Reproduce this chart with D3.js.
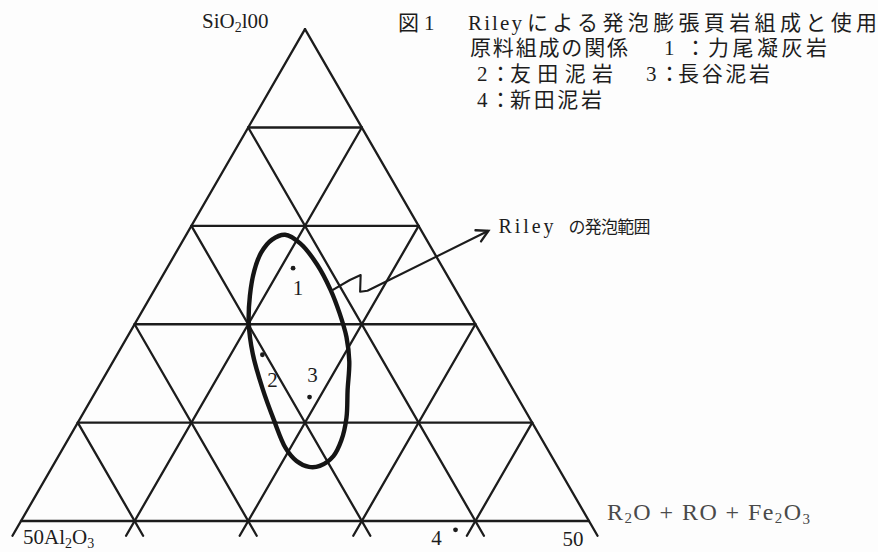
<!DOCTYPE html>
<html><head><meta charset="utf-8">
<script src="https://cdn.jsdelivr.net/npm/d3@7"></script>
<style>
body{margin:0;background:#fdfdfd;}
svg{display:block;}
text{font-family:"Liberation Serif","Noto Sans CJK JP",serif;fill:#1d1d1d;}
</style></head><body>
<svg id="chart" width="878" height="552"></svg>
<script>
// Ternary field: SiO2 50–100 at the apex, Al2O3 (left) and R2O+RO+Fe2O3 (right) 0–50.
const gridValues = [0, 10, 20, 30, 40];      // Al2O3 and flux grid lines
const silicaLevels = [60, 70, 80, 90];       // horizontal SiO2 lines
const baseExtend = 48.5;                     // SiO2 at which edge lines stop below the base

const sampleNames = ["1", "2", "3", "4"];
const sampleSiO2 = [75.7, 66.9, 62.6, 49.1];
const sampleFlux = [11.1, 12.8, 19.1, 38.7];

// Riley bloating range (closed outline)
const rileySiO2 = [79.1, 78.2, 76.1, 73.5, 71.1, 68.7, 66.2, 63.3, 60.5, 58.2, 56.6, 55.6,
                   55.5, 56.1, 57.4, 60.3, 63.5, 67.0, 70.1, 72.9, 75.5, 77.3, 78.6];
const rileyFlux = [8.7, 10.5, 13.0, 15.5, 17.5, 19.3, 20.8, 22.1, 23.4, 24.1, 24.2, 23.5,
                   22.6, 21.2, 19.6, 17.1, 14.5, 11.9, 10.0, 8.7, 7.8, 7.5, 7.8];

// Leader from the outline to its caption
const arrowSiO2 = [73.4, 74.5, 75.0, 73.3, 73.4, 79.5];
const arrowFlux = [15.6, 16.7, 17.4, 18.2, 18.8, 26.4];

// Caption pieces: x start, text, optional fitted width
const titleLines = [
  [{x: 398, t: "図"}, {x: 424, t: "1"}, {x: 468, t: "Riley", len: 54},
   {x: 527, t: "による発泡膨張頁岩組成と使用", len: 350}],
  [{x: 470, t: "原料組成の関係", len: 158}, {x: 664, t: "1"}, {x: 685, t: "："},
   {x: 708, t: "力尾凝灰岩", len: 119}],
  [{x: 477, t: "2"}, {x: 490, t: "："}, {x: 510, t: "友田泥岩", len: 103},
   {x: 646, t: "3"}, {x: 659, t: "："}, {x: 678, t: "長谷泥岩", len: 92}],
  [{x: 477, t: "4"}, {x: 490, t: "："}, {x: 510, t: "新田泥岩", len: 92}]
];
const titleBaselines = [30, 55, 81, 107];

const svg = d3.select("#chart");
const side = 568;
const x = d3.scaleLinear().domain([0, 1]).range([21, 21 + side]);
const y = d3.scaleLinear().domain([0, 1]).range([521, 521 - side * Math.sqrt(3) / 2]);

// SiO2 + flux (+ Al2O3 = remainder) -> screen
function P(s, f) {
  const cy = (s - 50) / 50;
  const cx = f / 50 + cy / 2;
  return [x(cx), y(cy)];
}
const ink = "#1c1c1c";
const line = d3.line();

const g = svg.append("g").attr("fill", "none").attr("stroke", ink)
  .attr("stroke-width", 2.3).attr("stroke-linecap", "round");

// base
g.append("path").attr("d", line([P(50, 0), P(50, 50)]));
// horizontal SiO2 lines
silicaLevels.forEach(s => g.append("path").attr("d", line([P(s, 0), P(s, 100 - s)])));
// constant-flux lines (parallel to the left edge), running past the base
gridValues.forEach(f => g.append("path").attr("d", line([P(baseExtend, f), P(100 - f, f)])));
// constant-Al2O3 lines (parallel to the right edge), running past the base
gridValues.forEach(a => g.append("path").attr("d", line([P(baseExtend, 100 - baseExtend - a), P(100 - a, 0)])));

// Riley outline
const rPts = rileySiO2.map((s, i) => P(s, rileyFlux[i]));
svg.append("path")
  .attr("d", d3.line().curve(d3.curveCatmullRomClosed.alpha(0.5))(rPts))
  .attr("fill", "none").attr("stroke", "#151515").attr("stroke-width", 4.4);

// leader with open arrowhead
const aPts = arrowSiO2.map((s, i) => P(s, arrowFlux[i]));
svg.append("path").attr("d", line(aPts))
  .attr("fill", "none").attr("stroke", ink).attr("stroke-width", 2.1).attr("stroke-linejoin", "round");
const tip = aPts[aPts.length - 1], prev = aPts[aPts.length - 2];
const ang = Math.atan2(tip[1] - prev[1], tip[0] - prev[0]);
const head = [-0.5, 0.5].map(d => [tip[0] - 13 * Math.cos(ang + d), tip[1] - 13 * Math.sin(ang + d)]);
svg.append("path").attr("d", line([head[0], tip, head[1]]))
  .attr("fill", "none").attr("stroke", ink).attr("stroke-width", 2.3)
  .attr("stroke-linejoin", "miter").attr("stroke-linecap", "round");
svg.append("text").attr("x", tip[0] + 10).attr("y", tip[1] + 2)
  .attr("font-size", 20).attr("textLength", 55).attr("lengthAdjust", "spacing").text("Riley");
svg.append("text").attr("x", tip[0] + 80).attr("y", tip[1] + 2)
  .attr("font-size", 17).attr("textLength", 82).attr("lengthAdjust", "spacing").text("の発泡範囲");

// samples
const labelOffsets = [[5, 27], [10, 32], [3, -15], [-19, 15]];
sampleNames.forEach((n, i) => {
  const p = P(sampleSiO2[i], sampleFlux[i]);
  svg.append("circle").attr("cx", p[0]).attr("cy", p[1]).attr("r", 2.4).attr("fill", ink);
  svg.append("text").attr("x", p[0] + labelOffsets[i][0]).attr("y", p[1] + labelOffsets[i][1])
    .attr("text-anchor", "middle").attr("font-size", 21).text(n);
});

// corner labels
const apex = P(100, 0), left = P(50, 0), right = P(50, 50);
const t1 = svg.append("text").attr("x", apex[0] - 103).attr("y", apex[1] - 1).attr("font-size", 21);
t1.append("tspan").text("SiO");
t1.append("tspan").attr("font-size", 14).attr("dy", 4).text("2");
t1.append("tspan").attr("dy", -4).text("l00");

const t2 = svg.append("text").attr("x", left[0] + 2).attr("y", left[1] + 23).attr("font-size", 21);
t2.append("tspan").text("50Al");
t2.append("tspan").attr("font-size", 14).attr("dy", 4).text("2");
t2.append("tspan").attr("dy", -4).text("O");
t2.append("tspan").attr("font-size", 14).attr("dy", 4).text("3");

const t3 = svg.append("text").attr("x", right[0] + 18).attr("y", right[1] - 1)
  .attr("font-size", 24).style("fill", "#4a4a4a")
  .attr("textLength", 203).attr("lengthAdjust", "spacing");
t3.append("tspan").text("R");
t3.append("tspan").attr("font-size", 15).attr("dy", 3).text("2");
t3.append("tspan").attr("dy", -3).text("O + RO + Fe");
t3.append("tspan").attr("font-size", 15).attr("dy", 3).text("2");
t3.append("tspan").attr("dy", -3).text("O");
t3.append("tspan").attr("font-size", 15).attr("dy", 4).text("3");

svg.append("text").attr("x", right[0] - 16).attr("y", right[1] + 25)
  .attr("text-anchor", "middle").attr("font-size", 21).text("50");

// caption
titleLines.forEach((segs, li) => {
  segs.forEach(s => {
    const t = svg.append("text").attr("x", s.x).attr("y", titleBaselines[li]).attr("font-size", 21).text(s.t);
    if (s.len) t.attr("textLength", s.len).attr("lengthAdjust", "spacing");
  });
});
</script>
</body></html>
